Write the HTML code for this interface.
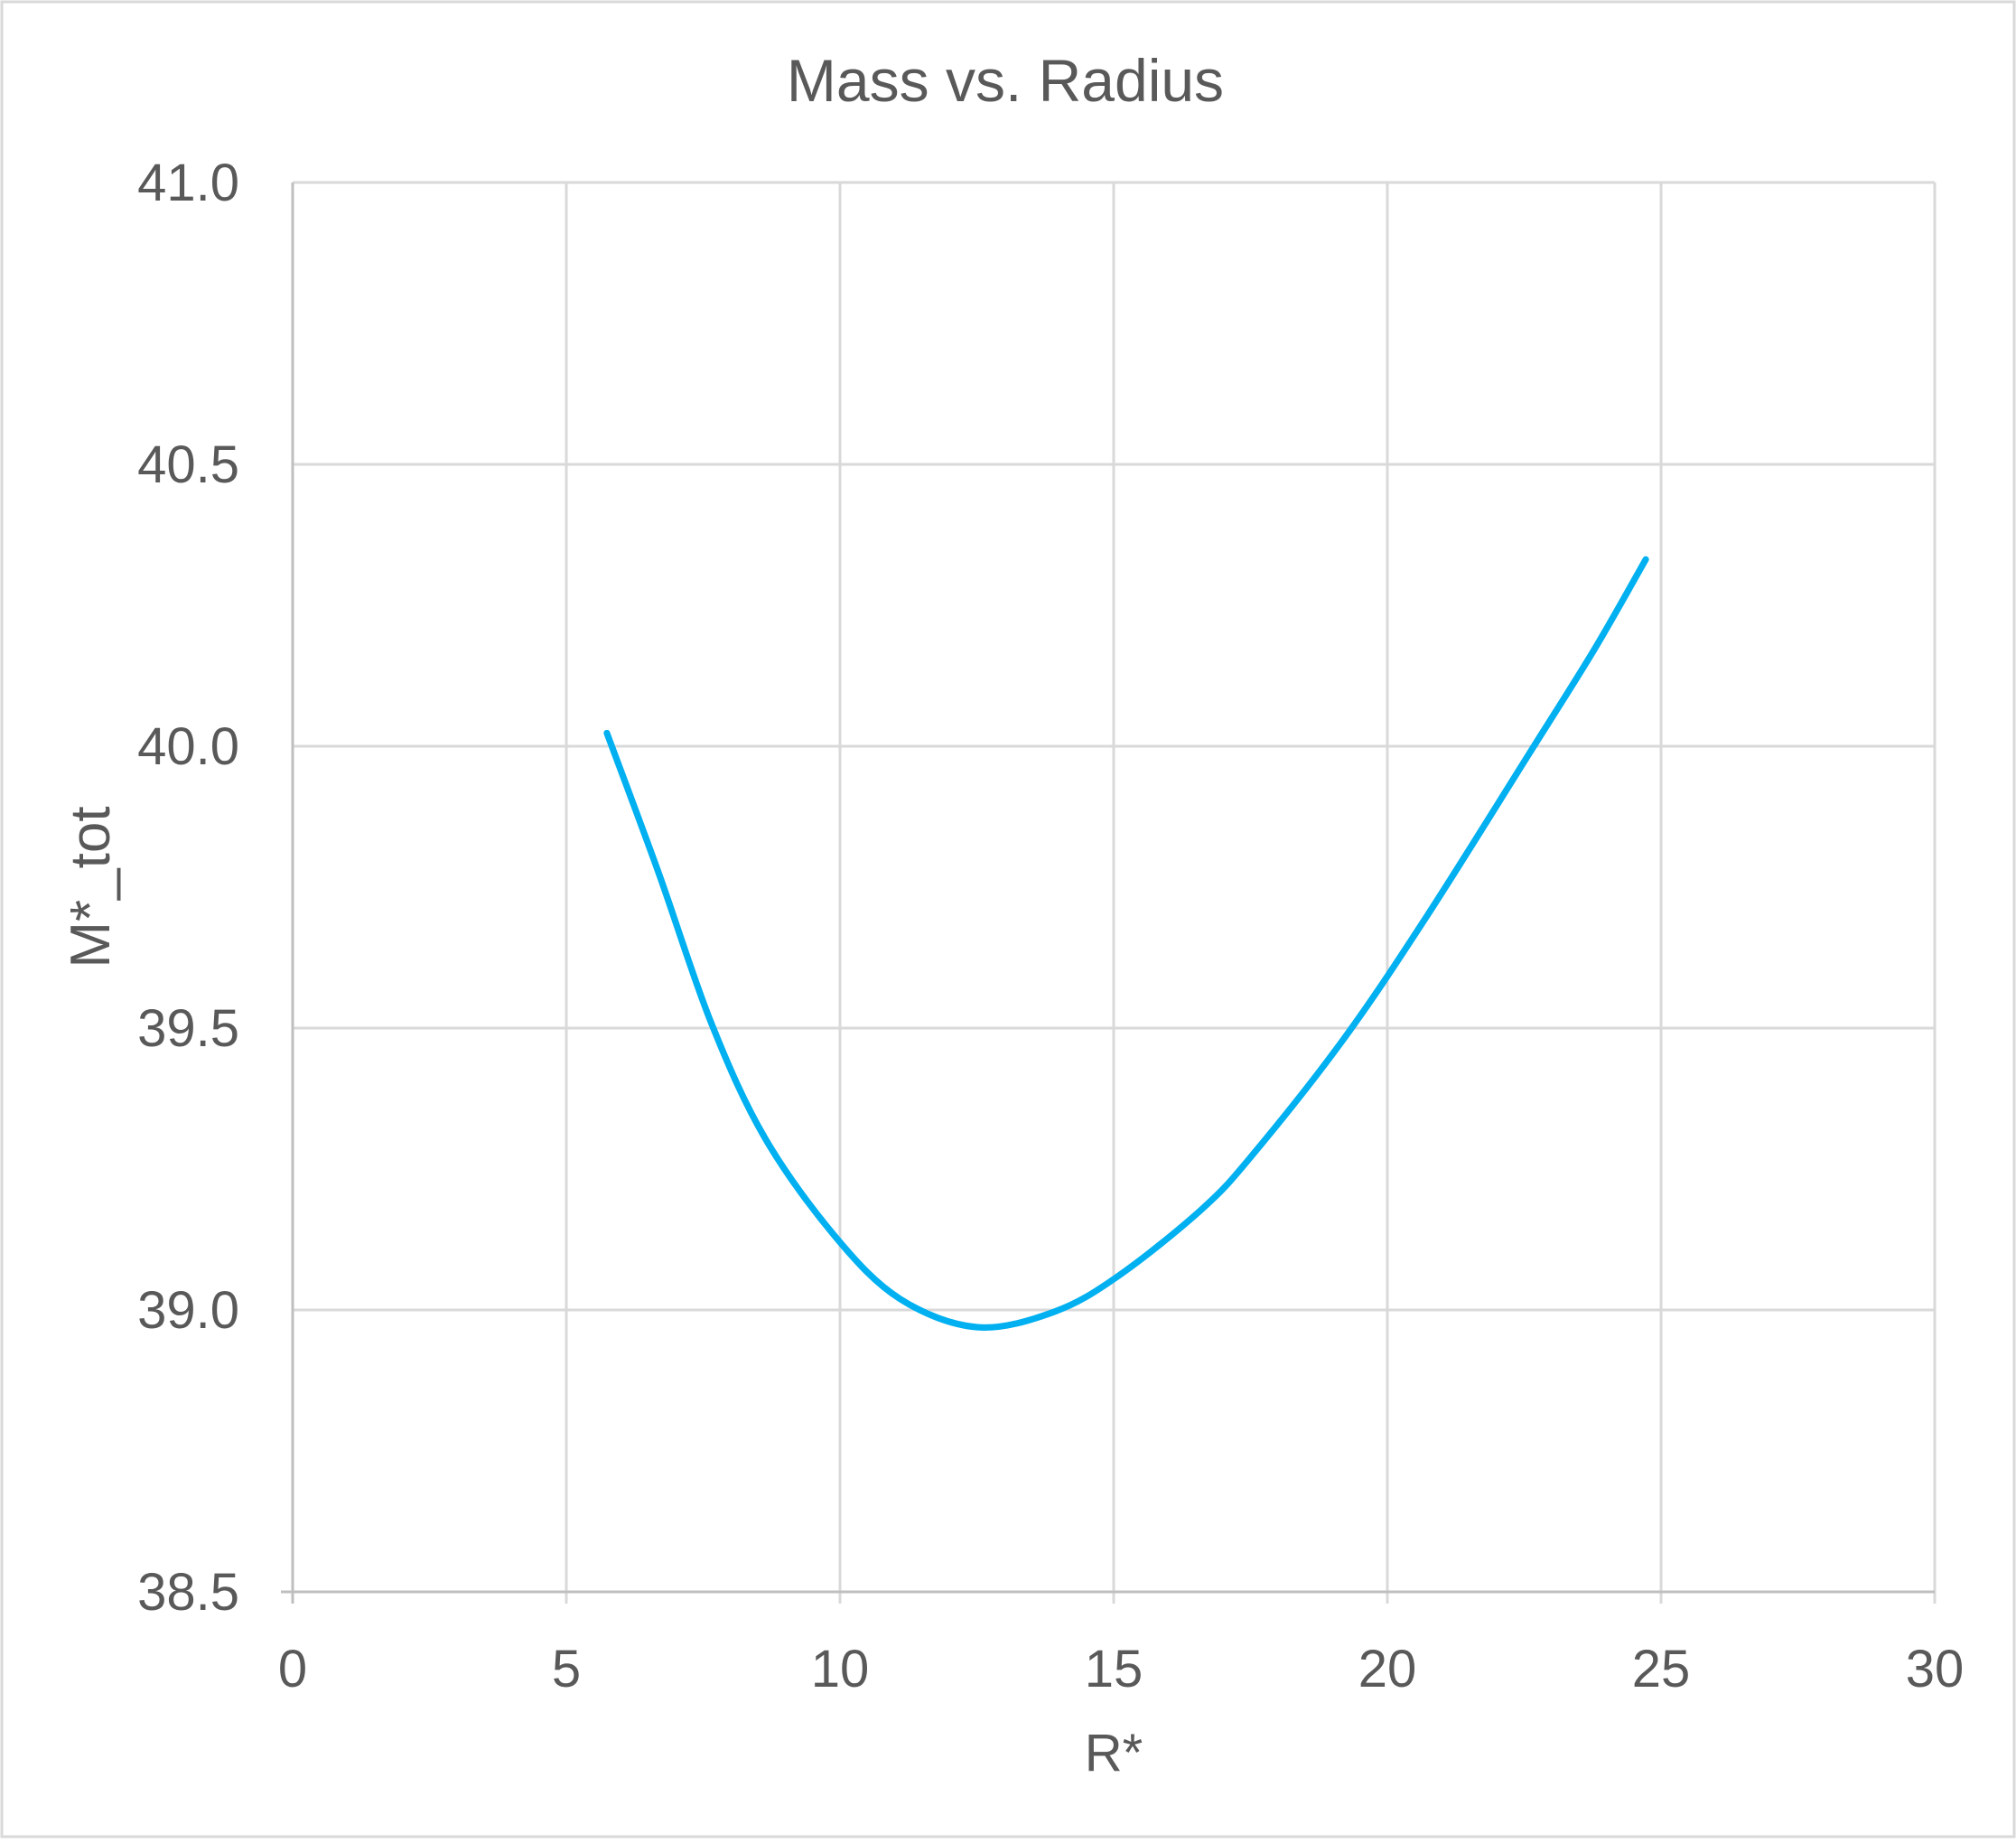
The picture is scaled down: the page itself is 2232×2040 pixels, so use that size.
<!DOCTYPE html>
<html><head><style>body{margin:0;background:#fff}</style></head><body>
<svg width="2232" height="2035" xmlns="http://www.w3.org/2000/svg" font-family="Liberation Sans, sans-serif" fill="#595959">
<rect x="2" y="2" width="2228" height="2031" fill="#fff" stroke="#d9d9d9" stroke-width="3"/>
<text x="1113" y="112" font-size="66" text-anchor="middle">Mass vs. Radius</text>
<g stroke="#d9d9d9" stroke-width="3">
<line x1="324" y1="202" x2="2142" y2="202"/>
<line x1="324" y1="514" x2="2142" y2="514"/>
<line x1="324" y1="826" x2="2142" y2="826"/>
<line x1="324" y1="1138" x2="2142" y2="1138"/>
<line x1="324" y1="1450" x2="2142" y2="1450"/>
<line x1="627" y1="202" x2="627" y2="1775"/>
<line x1="930" y1="202" x2="930" y2="1775"/>
<line x1="1233" y1="202" x2="1233" y2="1775"/>
<line x1="1536" y1="202" x2="1536" y2="1775"/>
<line x1="1839" y1="202" x2="1839" y2="1775"/>
<line x1="2142" y1="202" x2="2142" y2="1775"/>
</g>
<g stroke="#bfbfbf" stroke-width="3">
<line x1="324" y1="202" x2="324" y2="1775"/>
<line x1="311" y1="1762" x2="2142" y2="1762"/>
</g>
<g font-size="58" text-anchor="end">
<text x="265" y="222">41.0</text>
<text x="265" y="534">40.5</text>
<text x="265" y="846">40.0</text>
<text x="265" y="1158">39.5</text>
<text x="265" y="1470">39.0</text>
<text x="265" y="1782">38.5</text>
</g>
<g font-size="58" text-anchor="middle">
<text x="324" y="1867">0</text>
<text x="627" y="1867">5</text>
<text x="930" y="1867">10</text>
<text x="1233" y="1867">15</text>
<text x="1536" y="1867">20</text>
<text x="1839" y="1867">25</text>
<text x="2142" y="1867">30</text>
<text x="1233" y="1960">R*</text>
<text font-size="62" transform="translate(121,982) rotate(-90)">M*_tot</text>
</g>
<g transform="scale(1.4235)">
<path id="c" fill="none" stroke="#00b0f0" stroke-width="5" stroke-linecap="round" stroke-linejoin="round" d=""/>
</g>
</svg>
<script>
var p=[[472,570],[512,678],[553,795],[595,885],[650,962],[700,1010],[760,1032],[820,1020],[870,992],[935,940],[975,897],[1045,808],[1110,712],[1190,585],[1240,505],[1280,435]];
var d="M"+p[0];
for(var i=0;i<p.length-1;i++){var a=p[i-1]||p[i],b=p[i],c=p[i+1],e=p[i+2]||c;
d+=" C"+(b[0]+(c[0]-a[0])/6)+","+(b[1]+(c[1]-a[1])/6)+" "+(c[0]-(e[0]-b[0])/6)+","+(c[1]-(e[1]-b[1])/6)+" "+c;}
document.getElementById("c").setAttribute("d",d);
</script>
</body></html>
